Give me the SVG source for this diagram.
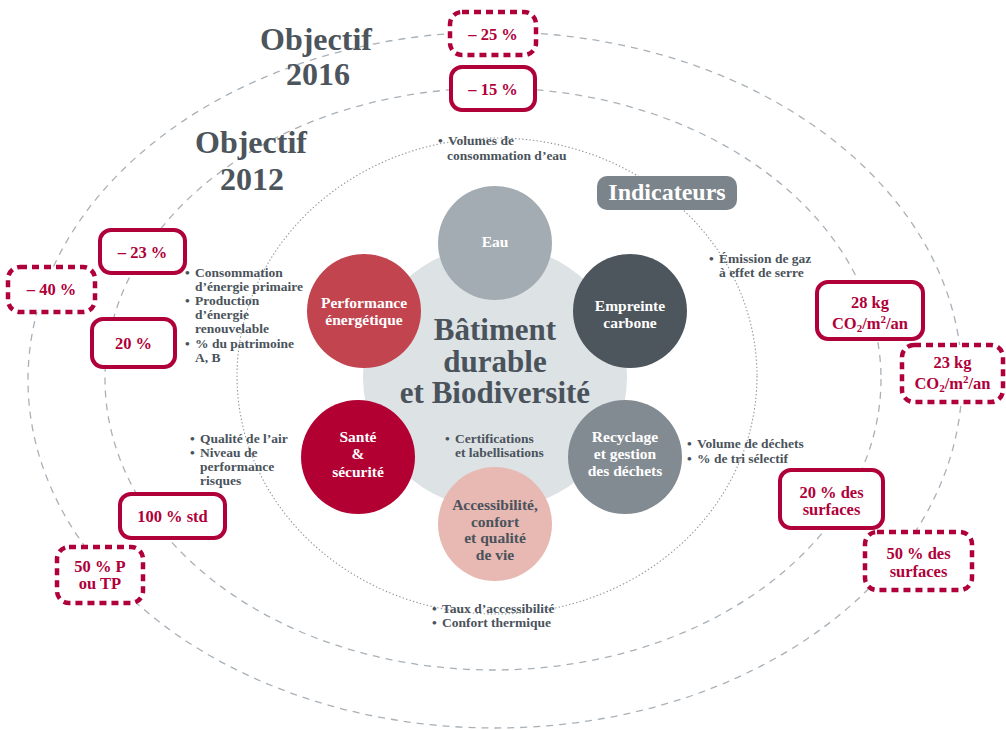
<svg xmlns="http://www.w3.org/2000/svg" width="1006" height="730" viewBox="0 0 1006 730">
<defs>
<style>
text{font-family:"Liberation Serif","DejaVu Serif",serif;font-weight:bold}
.ring{fill:none;stroke:#a9b1b8;stroke-width:1.3;stroke-dasharray:7 6}
.dot{fill:none;stroke:#8f979e;stroke-width:1.1;stroke-dasharray:1.4 2.2}
.box{fill:#fff;stroke:#b0003a;stroke-width:4}
.dbox{fill:#fff;stroke:#b0003a;stroke-width:4.5;stroke-dasharray:7 5}
.red{fill:#b0003a;font-size:16.5px;text-anchor:middle}
.obj{fill:#4c545c;font-size:32px;text-anchor:middle}
.bul{fill:#4a535b;font-size:13.5px}
.lab{fill:#fff;font-size:15.5px;text-anchor:middle}
.sm{font-size:11px}
</style>
</defs>
<rect width="1006" height="730" fill="#fff"/>
<g id="connectors">
<ellipse class="ring" cx="495" cy="380" rx="467" ry="348"/>
<ellipse class="ring" cx="493" cy="379" rx="388" ry="291"/>
<ellipse class="dot" cx="497" cy="376" rx="260" ry="238"/>
</g>
<g id="titles">
<text class="obj" x="316" y="50">Objectif</text>
<text class="obj" x="318" y="85">2016</text>
<text class="obj" x="251" y="153">Objectif</text>
<text class="obj" x="252" y="190">2012</text>
</g>
<g id="indicateurs">
<rect x="597" y="176" width="140" height="34" rx="10" fill="#7b848b"/>
<text x="667" y="200" fill="#fff" font-size="24" text-anchor="middle">Indicateurs</text>
</g>
<g id="centre">
<circle cx="495" cy="377" r="132" fill="#dde2e5"/>
<text x="495" y="340" fill="#4a535b" font-size="31" text-anchor="middle">Bâtiment</text>
<text x="495" y="372" fill="#4a535b" font-size="31" text-anchor="middle">durable</text>
<text x="495" y="403" fill="#4a535b" font-size="31" text-anchor="middle">et Biodiversité</text>
</g>
<g id="eau">
<circle cx="495" cy="243" r="57" fill="#a3acb2"/>
<text class="lab" x="495" y="247">Eau</text>
</g>
<g id="performance">
<circle cx="364" cy="311" r="57" fill="#c1444f"/>
<text class="lab" x="364" y="308">Performance</text>
<text class="lab" x="364" y="325">énergétique</text>
</g>
<g id="empreinte">
<circle cx="630" cy="311" r="57" fill="#4d555d"/>
<text class="lab" x="630" y="311">Empreinte</text>
<text class="lab" x="630" y="328">carbone</text>
</g>
<g id="sante">
<circle cx="358" cy="457" r="57" fill="#b20033"/>
<text class="lab" x="358" y="442">Santé</text>
<text class="lab" x="358" y="459">&amp;</text>
<text class="lab" x="358" y="477">sécurité</text>
</g>
<g id="recyclage">
<circle cx="625" cy="457" r="57" fill="#838b92"/>
<text class="lab" x="625" y="442">Recyclage</text>
<text class="lab" x="625" y="459">et gestion</text>
<text class="lab" x="625" y="476">des déchets</text>
</g>
<g id="accessibilite">
<circle cx="495" cy="524" r="57" fill="#e8b8b3"/>
<text class="lab" x="495" y="510" fill="#4a535b" style="fill:#4a535b">Accessibilité,</text>
<text class="lab" x="495" y="527" style="fill:#4a535b">confort</text>
<text class="lab" x="495" y="543" style="fill:#4a535b">et qualité</text>
<text class="lab" x="495" y="560" style="fill:#4a535b">de vie</text>
</g>
<g id="bullets">
<text class="bul" x="438" y="145">•</text><text class="bul" x="448" y="145">Volumes de</text>
<text class="bul" x="447" y="160">consommation d’eau</text>
<text class="bul" x="185" y="277">•</text><text class="bul" x="195" y="277">Consommation</text>
<text class="bul" x="195" y="291">d’énergie primaire</text>
<text class="bul" x="185" y="305">•</text><text class="bul" x="195" y="305">Production</text>
<text class="bul" x="195" y="319">d’énergie</text>
<text class="bul" x="195" y="333">renouvelable</text>
<text class="bul" x="185" y="348">•</text><text class="bul" x="195" y="348">% du patrimoine</text>
<text class="bul" x="195" y="362">A, B</text>
<text class="bul" x="709" y="263">•</text><text class="bul" x="719" y="263">Émission de gaz</text>
<text class="bul" x="719" y="277">à effet de serre</text>
<text class="bul" x="190" y="443">•</text><text class="bul" x="200" y="443">Qualité de l’air</text>
<text class="bul" x="190" y="457">•</text><text class="bul" x="200" y="457">Niveau de</text>
<text class="bul" x="200" y="471">performance</text>
<text class="bul" x="200" y="485">risques</text>
<text class="bul" x="445" y="443">•</text><text class="bul" x="455" y="443">Certifications</text>
<text class="bul" x="455" y="457">et labellisations</text>
<text class="bul" x="687" y="448">•</text><text class="bul" x="697" y="448">Volume de déchets</text>
<text class="bul" x="687" y="463">•</text><text class="bul" x="697" y="463">% de tri sélectif</text>
<text class="bul" x="432" y="613">•</text><text class="bul" x="442" y="613">Taux d’accessibilité</text>
<text class="bul" x="432" y="627">•</text><text class="bul" x="442" y="627">Confort thermique</text>
</g>
<g id="box-m25">
<rect class="dbox" x="450" y="12" width="86" height="43" rx="12"/>
<text class="red" x="493" y="40">– 25 %</text>
</g>
<g id="box-m15">
<rect class="box" x="451" y="67" width="84" height="43" rx="11"/>
<text class="red" x="493" y="95">– 15 %</text>
</g>
<g id="box-m23">
<rect class="box" x="100" y="230" width="85" height="43" rx="11"/>
<text class="red" x="142.5" y="258">– 23 %</text>
</g>
<g id="box-m40">
<rect class="dbox" x="8" y="267" width="87" height="45" rx="12"/>
<text class="red" x="51.5" y="295">– 40 %</text>
</g>
<g id="box-20">
<rect class="box" x="92" y="319" width="83" height="48" rx="11"/>
<text class="red" x="133.5" y="349">20 %</text>
</g>
<g id="box-28kg">
<rect class="box" x="817" y="282" width="106" height="57" rx="11"/>
<text class="red" x="870" y="308">28 kg</text>
<text class="red" x="870" y="329">CO<tspan class="sm" dy="3">2</tspan><tspan dy="-3">/m</tspan><tspan class="sm" dy="-6">2</tspan><tspan dy="6">/an</tspan></text>
</g>
<g id="box-23kg">
<rect class="dbox" x="902" y="345" width="101" height="57" rx="12"/>
<text class="red" x="952.5" y="368">23 kg</text>
<text class="red" x="952.5" y="389">CO<tspan class="sm" dy="3">2</tspan><tspan dy="-3">/m</tspan><tspan class="sm" dy="-6">2</tspan><tspan dy="6">/an</tspan></text>
</g>
<g id="box-100std">
<rect class="box" x="120" y="494" width="105" height="44" rx="11"/>
<text class="red" x="172.5" y="522">100 % std</text>
</g>
<g id="box-50p">
<rect class="dbox" x="57" y="547" width="86" height="56" rx="12"/>
<text class="red" x="100" y="572">50 % P</text>
<text class="red" x="100" y="589">ou TP</text>
</g>
<g id="box-20s">
<rect class="box" x="780" y="470" width="103" height="58" rx="11"/>
<text class="red" x="831.5" y="498">20 % des</text>
<text class="red" x="831.5" y="515">surfaces</text>
</g>
<g id="box-50s">
<rect class="dbox" x="865" y="532" width="107" height="58" rx="12"/>
<text class="red" x="918.5" y="559">50 % des</text>
<text class="red" x="918.5" y="577">surfaces</text>
</g>
</svg>
